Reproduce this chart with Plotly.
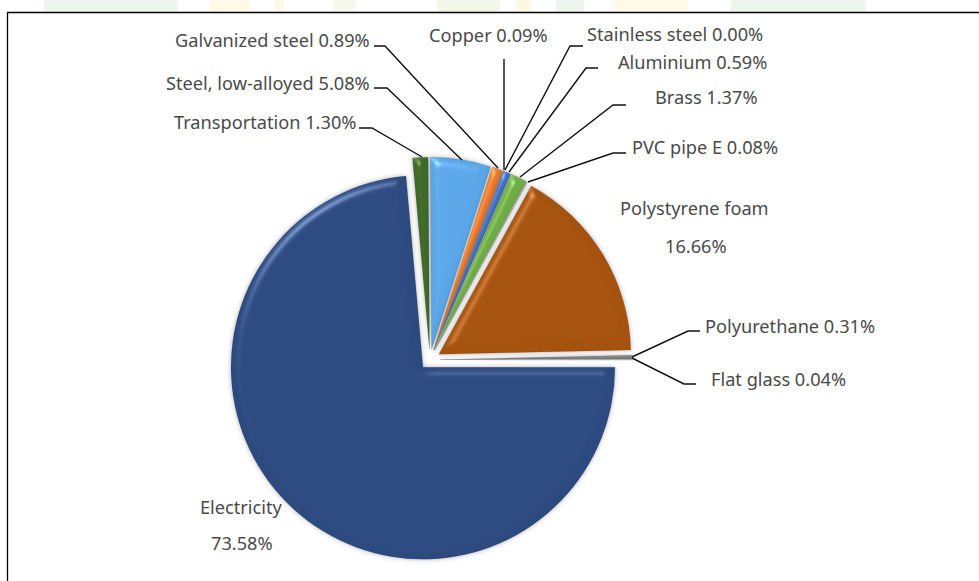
import plotly.graph_objects as go

W, H = 979, 581
materials = ["Electricity", "Transportation", "Steel, low-alloyed", "Galvanized steel", "Copper",
             "Stainless steel", "Aluminium", "Brass", "PVC pipe E", "Polystyrene foam",
             "Polyurethane", "Flat glass"]
shares = [73.58, 1.30, 5.08, 0.89, 0.09, 0.00, 0.59, 1.37, 0.08, 16.66, 0.31, 0.04]
colors = ["#2c4a80", "#3f6a2a", "#5ba6e6", "#ed7d31", "#a5a5a5", "#c0c0c0", "#4472c4",
          "#70ad47", "#9e9e9e", "#a5520f", "#808080", "#b0b0b0"]

label_text = ["Electricity", "73.58%", "Transportation 1.30%", "Steel, low-alloyed 5.08%",
              "Galvanized steel 0.89%", "Copper 0.09%", "Stainless steel 0.00%", "Aluminium 0.59%",
              "Brass 1.37%", "PVC pipe E 0.08%", "Polystyrene foam", "16.66%",
              "Polyurethane 0.31%", "Flat glass 0.04%"]
label_x = [241.5, 242, 265, 267.5, 272, 488.5, 674.5, 692.5, 706.5, 704.5, 694.5, 695.5, 789.5, 778.5]
label_y = [507, 543, 122, 83, 40, 35, 34, 62, 97, 147, 208, 246, 326, 379]

leaders = [
    [(359, 128), (372, 128), (422, 157)],
    [(374, 88), (387, 88), (462, 160)],
    [(374, 46), (385, 46), (498, 168)],
    [(504, 59), (504, 170)],
    [(583, 46), (570, 46), (505, 170)],
    [(598, 68), (586, 68), (509, 172)],
    [(626, 105), (613, 105), (520, 177)],
    [(626, 153), (613, 153), (528, 182)],
    [(700, 331), (688, 331), (632, 357)],
    [(696, 384), (684, 384), (632, 358)],
]
watermark = [(44, 178, "#eef6ef"), (210, 250, "#fefae6"), (275, 284, "#fef8e8"), (334, 356, "#f7f9ec"),
             (437, 500, "#f3f7e8"), (516, 531, "#fdf8e2"), (556, 584, "#eef6ef"),
             (615, 688, "#fefae6"), (731, 866, "#eef6ef")]

px = lambda x: x / W
py = lambda y: 1 - y / H

PULL = 0.054
cx, cy, half = 430.0, 359.6, 192 * (1 + PULL)

fig = go.Figure(go.Pie(
    labels=materials, values=shares, sort=False, direction="clockwise",
    rotation=90, pull=PULL, textinfo="none", hoverinfo="label+percent", showlegend=False,
    marker=dict(colors=colors, line=dict(color="rgba(0,0,0,0.15)", width=0.6)),
    domain=dict(x=[px(cx - half), px(cx + half)], y=[py(cy + half), py(cy - half)]),
))

shapes = []
for x0, x1, c in watermark:
    shapes.append(dict(type="rect", xref="paper", yref="paper", x0=px(x0), x1=px(x1), y0=py(12), y1=1,
                       fillcolor=c, line_width=0, layer="below"))
shapes.append(dict(type="path", xref="paper", yref="paper", layer="above",
                   path=f"M {px(7.5)} {py(581)} L {px(7.5)} {py(12.5)} L {px(979)} {py(12.5)}",
                   line=dict(color="black", width=1.3)))
for pts in leaders:
    d = "M " + " L ".join(f"{px(x)} {py(y)}" for x, y in pts)
    shapes.append(dict(type="path", xref="paper", yref="paper", path=d, layer="above",
                       line=dict(color="#111111", width=1.4)))

annotations = [dict(x=px(x), y=py(y), xref="paper", yref="paper", text=t, showarrow=False,
                    xanchor="center", yanchor="middle", font=dict(size=18.2, color="#4a4a4a"))
               for t, x, y in zip(label_text, label_x, label_y)]

fig.update_layout(width=W, height=H, margin=dict(l=0, r=0, t=0, b=0), paper_bgcolor="white",
                  font=dict(family="Noto Sans"), shapes=shapes, annotations=annotations)

post = """
document.body.style.margin='0';
var d=document.createElement('div');
d.style.cssText='position:absolute;width:0;height:0';
d.innerHTML='<svg width="0" height="0"><defs><filter id="bevel" color-interpolation-filters="sRGB" x="-25%" y="-25%" width="150%" height="150%">'
+'<feGaussianBlur in="SourceAlpha" stdDeviation="5" result="b"/>'
+'<feSpecularLighting in="b" surfaceScale="5" specularConstant="0.3" specularExponent="40" lighting-color="#ffffff" result="sp"><feDistantLight azimuth="235" elevation="42"/></feSpecularLighting>'
+'<feComposite in="sp" in2="SourceAlpha" operator="in" result="sp2"/>'
+'<feComposite in="SourceGraphic" in2="sp2" operator="arithmetic" k1="0" k2="1" k3="1" k4="0" result="lit"/>'
+'<feDropShadow in="lit" dx="0" dy="0" stdDeviation="2.5" flood-color="#000" flood-opacity="0.3"/>'
+'</filter></defs></svg>';
document.body.appendChild(d);
var s=document.createElement('style');
s.textContent='.slice path{filter:url(#bevel);}';
document.head.appendChild(s);
"""
fig.write_html("out.html", post_script=post, config=dict(displayModeBar=False),
               default_width=f"{W}px", default_height=f"{H}px")
